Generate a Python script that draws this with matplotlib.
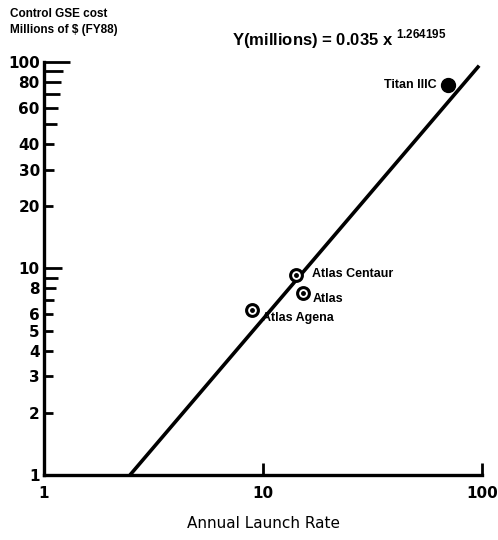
import matplotlib.pyplot as plt
from matplotlib.ticker import FixedLocator, NullLocator

# точки (ракеты-носители)
names = ["Titan IIIC", "Atlas Centaur", "Atlas", "Atlas Agena"]
rate = [70, 14.1, 15.2, 8.9]
cost = [77, 9.3, 7.6, 6.3]

# линия регрессии (концы)
line_x = [2.47, 97]
line_y = [1.0, 96]

y_ticks = [1, 2, 3, 4, 5, 6, 7, 8, 9, 10, 20, 30, 40, 50, 60, 70, 80, 90, 100]
y_labels = ["1", "2", "3", "4", "5", "6", "", "8", "", "10",
            "20", "30", "40", "", "60", "", "80", "", "100"]
x_ticks = [1, 10, 100]
x_labels = ["1", "10", "100"]

plt.rcParams["font.family"] = ["DejaVu Sans"]

fig = plt.figure(figsize=(4.98, 5.4), dpi=100)
ax = fig.add_axes([0.0884, 0.1204, 0.8795, 0.7648])
ax.set_xscale("log")
ax.set_yscale("log")
ax.set_xlim(1, 100)
ax.set_ylim(1, 100)

ax.plot(line_x, line_y, color="black", lw=2.6, solid_capstyle="butt", clip_on=False)

# Titan — закрашенная точка, остальные — кружок с точкой
ax.plot(rate[0], cost[0], "o", color="black", ms=10, clip_on=False)
ax.plot(rate[1:], cost[1:], "o", mfc="white", mec="black", mew=2.2, ms=8.5, zorder=3)
ax.plot(rate[1:], cost[1:], "o", color="black", ms=2.5, zorder=4)

offsets = [(-8, 0, "right"), (12, 1, "left"), (7, -4, "left"), (7, -6, "left")]
for n, xv, yv, (dx, dy, ha) in zip(names, rate, cost, offsets):
    ax.annotate(n, (xv, yv), xytext=(dx, dy), textcoords="offset points",
                ha=ha, va="center", fontsize=9, fontweight="bold",
                family="Liberation Sans")

for s in ["top", "right"]:
    ax.spines[s].set_visible(False)
for s in ["left", "bottom"]:
    ax.spines[s].set_linewidth(2.4)

ax.yaxis.set_major_locator(FixedLocator(y_ticks))
ax.yaxis.set_minor_locator(NullLocator())
ax.set_yticklabels(y_labels)
ax.xaxis.set_major_locator(FixedLocator(x_ticks))
ax.xaxis.set_minor_locator(NullLocator())
ax.set_xticklabels(x_labels)

ax.tick_params(axis="y", direction="in", width=2, length=7, pad=3, labelsize=11)
ax.tick_params(axis="x", direction="in", width=2, length=9, pad=8, labelsize=11)
for lab in ax.get_xticklabels() + ax.get_yticklabels():
    lab.set_fontweight("bold")

tick_len = [7, 6.5, 6.5, 6.5, 6.5, 6.5, 7, 8.5, 10, 13,
            6.5, 7, 7, 9, 10, 11.5, 12, 14, 19]
for t, L in zip(ax.yaxis.get_major_ticks(), tick_len):
    t.tick1line.set_markersize(L)
ax.xaxis.get_major_ticks()[0].tick1line.set_markersize(0)

ax.set_xlabel("Annual Launch Rate", fontsize=11, labelpad=11)

fig.text(0.02, 0.985, "Control GSE cost\nMillions of $ (FY88)", ha="left", va="top",
         fontsize=8.5, fontweight="bold", family="Liberation Sans", linespacing=1.45)
fig.text(0.465, 0.915, r"Y(millions) = 0.035 x $^{\mathregular{1.264195}}$",
         ha="left", va="baseline", fontsize=12, fontweight="bold",
         family="Liberation Sans")

fig.savefig("out.png", dpi=100)
